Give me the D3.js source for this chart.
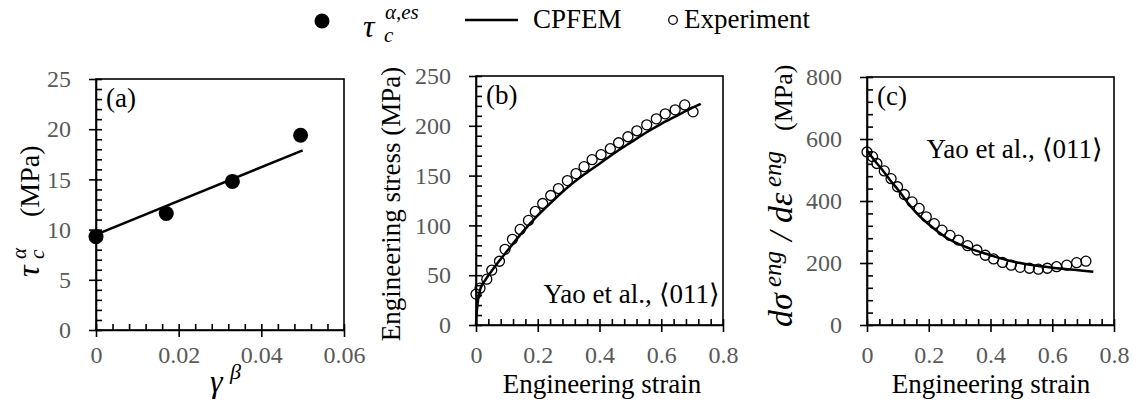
<!DOCTYPE html>
<html>
<head>
<meta charset="UTF-8">
</head>
<body style="margin:0">
<svg id="svgId"></svg>
<script src="https://cdnjs.cloudflare.com/ajax/libs/d3/7.8.5/d3.min.js"></script>
<script>

    // ---- data ----
    // (a) critical resolved shear stress vs gamma^beta
    const aGamma = [0, 0.017, 0.033, 0.0495];
    const aTau = [9.3, 11.6, 14.8, 19.4];
    const aFitGamma = [0, 0.05];
    const aFitTau = [9.5, 17.9];

    // (b) engineering stress-strain
    const bExpStrain = [0, 0.013, 0.035, 0.051, 0.076, 0.094, 0.118, 0.143, 0.170, 0.192, 0.216, 0.242, 0.267, 0.296,
        0.324, 0.350, 0.376, 0.405, 0.435, 0.462, 0.492, 0.521, 0.553, 0.584, 0.613, 0.645, 0.676, 0.703];
    const bExpStress = [31, 37, 46, 55, 64, 76, 86, 96, 105, 114, 122, 130, 137, 145,
        152, 159, 166, 171, 177, 183, 189, 195, 201, 207, 212, 216, 221, 214];
    const bSimStrain = [0, 0.003, 0.008, 0.015, 0.03, 0.05, 0.1, 0.15, 0.2, 0.25, 0.3, 0.35, 0.4, 0.45, 0.5, 0.55, 0.6, 0.65, 0.7, 0.728];
    const bSimStress = [0, 15, 28, 37, 45, 54, 74, 93, 110, 125, 139, 151, 162, 173, 183, 193, 202, 210, 218, 222];

    // (c) hardening rate
    const cExpStrain = [0, 0.018, 0.032, 0.056, 0.078, 0.099, 0.121, 0.146, 0.169, 0.192, 0.218, 0.243, 0.269, 0.296,
        0.326, 0.356, 0.383, 0.41, 0.439, 0.467, 0.496, 0.526, 0.555, 0.584, 0.614, 0.647, 0.679, 0.709];
    const cExpRate = [558, 543, 521, 497, 472, 446, 421, 397, 376, 349, 327, 306, 289, 274,
        256, 242, 225, 213, 202, 193, 186, 183, 180, 183, 188, 193, 201, 206];
    const cSimStrain = [0, 0.025, 0.05, 0.075, 0.1, 0.13, 0.16, 0.2, 0.26, 0.33, 0.4, 0.45, 0.5, 0.55, 0.6, 0.65, 0.7, 0.733];
    const cSimRate = [562, 530, 500, 467, 437, 397, 362, 325, 280, 248, 225, 210, 199, 191, 185, 180, 175, 172];

    // tick labels
    const aXTicks = [0, 0.02, 0.04, 0.06];
    const aXTickLabels = ['0', '0.02', '0.04', '0.06'];
    const aYTicks = [0, 5, 10, 15, 20, 25];
    const strainTicks = [0, 0.2, 0.4, 0.6, 0.8];
    const strainTickLabels = ['0', '0.2', '0.4', '0.6', '0.8'];
    const bYTicks = [0, 50, 100, 150, 200, 250];
    const cYTicks = [0, 200, 400, 600, 800];

    const svgWidth = 1138, svgHeight = 413;
    const tickGrey = '#595959';
    const FONT = 'Liberation Serif';

    const svg = d3.select('#svgId')
        .attr('width', svgWidth)
        .attr('height', svgHeight);

    // plain text helper, font given on every text
    function label(g, t, x, y, size, opts = {}) {
        return g.append('text')
            .attr('x', x).attr('y', y)
            .attr('text-anchor', opts.anchor || 'start')
            .attr('transform', opts.transform || null)
            .attr('font-family', FONT)
            .attr('font-size', size)
            .attr('font-style', opts.italic ? 'italic' : 'normal')
            .style('font-family', `"${FONT}"`)
            .attr('fill', 'black')
            .text(t);
    }

    // several text pieces (for sub/superscripts) inside one group
    function mathLabel(g, pieces) {
        pieces.forEach(p => label(g, p.t, p.x, p.y, p.size, {italic: p.italic}));
    }

    function range(step, max) {
        return d3.range(0, max + step / 2, step).map(v => +v.toFixed(6));
    }

    function drawPanel(p) {
        const x = d3.scaleLinear().domain(p.xDomain).range([p.left, p.right]);
        const y = d3.scaleLinear().domain(p.yDomain).range([p.bottom, p.top]);
        const g = svg.append('g');

        // frame
        g.append('rect')
            .attr('x', p.left).attr('y', p.top)
            .attr('width', p.right - p.left).attr('height', p.bottom - p.top)
            .attr('fill', 'none').attr('stroke', 'black').attr('stroke-width', 1.6);

        // inner ticks (major + minor)
        g.append('g')
            .attr('transform', `translate(0,${p.bottom})`)
            .call(d3.axisBottom(x).tickValues(range(p.xMinor, p.xDomain[1])).tickSize(-6).tickFormat(''))
            .call(a => a.select('.domain').remove());
        g.append('g')
            .attr('transform', `translate(${p.left},0)`)
            .call(d3.axisLeft(y).tickValues(range(p.yMinor, p.yDomain[1])).tickSize(-6).tickFormat(''))
            .call(a => a.select('.domain').remove());

        // outer major ticks and labels
        const xAxis = g.append('g')
            .attr('transform', `translate(0,${p.bottom})`)
            .call(d3.axisBottom(x).tickValues(p.xTicks).tickSize(7).tickSizeOuter(0)
                .tickPadding(p.xPad).tickFormat((d, i) => p.xLabels[i]));
        const yAxis = g.append('g')
            .attr('transform', `translate(${p.left},0)`)
            .call(d3.axisLeft(y).tickValues(p.yTicks).tickSize(7).tickSizeOuter(0)
                .tickPadding(18).tickFormat(d => d));
        [xAxis, yAxis].forEach(a => {
            a.attr('font-family', FONT).attr('font-size', 24);
            a.select('.domain').attr('stroke', 'black').attr('stroke-width', 1.6);
            a.selectAll('text')
                .attr('fill', tickGrey)
                .attr('font-family', FONT)
                .style('font-family', `"${FONT}"`)
                .attr('font-size', 24);
        });
        g.selectAll('.tick line').attr('stroke', 'black').attr('stroke-width', 1.6);

        // panel letter
        label(g, p.tag, p.left + 10, p.top + 28, 27);

        return {g, x, y};
    }

    const line = (x, y) => d3.line().x(d => x(d[0])).y(d => y(d[1])).curve(d3.curveMonotoneX);

    // ---- panel (a) ----
    const pa = drawPanel({
        left: 96, right: 344, top: 79, bottom: 330,
        xDomain: [0, 0.06], yDomain: [0, 25], xMinor: 0.004, yMinor: 1,
        xTicks: aXTicks, xLabels: aXTickLabels, yTicks: aYTicks, xPad: 9, tag: '(a)'
    });
    pa.g.append('path')
        .datum(d3.zip(aFitGamma, aFitTau))
        .attr('fill', 'none').attr('stroke', 'black').attr('stroke-width', 2.5)
        .attr('d', line(pa.x, pa.y));
    pa.g.selectAll('circle.pt')
        .data(d3.zip(aGamma, aTau)).enter()
        .append('circle')
        .attr('cx', d => pa.x(d[0])).attr('cy', d => pa.y(d[1]))
        .attr('r', 7.5).attr('fill', 'black');

    mathLabel(svg.append('g').attr('transform', 'translate(39,277) rotate(-90)'), [
        {t: 'τ', x: 0, y: 0, size: 32, italic: true},
        {t: 'α', x: 18, y: -13, size: 21, italic: true},
        {t: 'c', x: 18, y: 5, size: 21, italic: true},
        {t: '(MPa)', x: 60, y: 0, size: 28}
    ]);
    mathLabel(svg.append('g'), [
        {t: 'γ', x: 210, y: 392, size: 32, italic: true},
        {t: 'β', x: 230, y: 379, size: 22, italic: true}
    ]);

    // ---- panel (b) ----
    const pb = drawPanel({
        left: 476, right: 723, top: 76, bottom: 325,
        xDomain: [0, 0.8], yDomain: [0, 250], xMinor: 0.04, yMinor: 10,
        xTicks: strainTicks, xLabels: strainTickLabels, yTicks: bYTicks, xPad: 14, tag: '(b)'
    });
    pb.g.append('path')
        .datum(d3.zip(bSimStrain, bSimStress))
        .attr('fill', 'none').attr('stroke', 'black').attr('stroke-width', 2.5)
        .attr('d', line(pb.x, pb.y));
    pb.g.selectAll('circle.pt')
        .data(d3.zip(bExpStrain, bExpStress)).enter()
        .append('circle')
        .attr('cx', d => pb.x(d[0])).attr('cy', d => pb.y(d[1]))
        .attr('r', 5).attr('fill', 'none').attr('stroke', 'black').attr('stroke-width', 1.3);
    label(pb.g, 'Yao et al., ⟨011⟩', 720, 303, 27, {anchor: 'end'});
    label(svg, 'Engineering stress (MPa)', 0, 0, 27, {anchor: 'middle', transform: 'translate(400,204) rotate(-90)'});
    label(svg, 'Engineering strain', 602, 393, 27, {anchor: 'middle'});

    // ---- panel (c) ----
    const pc = drawPanel({
        left: 867, right: 1114, top: 77, bottom: 325,
        xDomain: [0, 0.8], yDomain: [0, 800], xMinor: 0.04, yMinor: 40,
        xTicks: strainTicks, xLabels: strainTickLabels, yTicks: cYTicks, xPad: 14, tag: '(c)'
    });
    pc.g.append('path')
        .datum(d3.zip(cSimStrain, cSimRate))
        .attr('fill', 'none').attr('stroke', 'black').attr('stroke-width', 2.5)
        .attr('d', line(pc.x, pc.y));
    pc.g.selectAll('circle.pt')
        .data(d3.zip(cExpStrain, cExpRate)).enter()
        .append('circle')
        .attr('cx', d => pc.x(d[0])).attr('cy', d => pc.y(d[1]))
        .attr('r', 5).attr('fill', 'none').attr('stroke', 'black').attr('stroke-width', 1.3);
    label(pc.g, 'Yao et al., ⟨011⟩', 1103, 158, 27, {anchor: 'end'});
    mathLabel(svg.append('g').attr('transform', 'translate(792,327) rotate(-90)'), [
        {t: 'dσ', x: 0, y: 0, size: 34, italic: true},
        {t: 'eng', x: 40, y: -11, size: 25, italic: true},
        {t: '/', x: 86, y: 0, size: 34, italic: true},
        {t: 'dε', x: 104, y: 0, size: 34, italic: true},
        {t: 'eng', x: 140, y: -11, size: 25, italic: true},
        {t: '(MPa)', x: 196, y: 0, size: 26}
    ]);
    label(svg, 'Engineering strain', 991, 393, 27, {anchor: 'middle'});

    // ---- legend ----
    const legend = svg.append('g');
    legend.append('circle').attr('cx', 322).attr('cy', 21).attr('r', 7.5).attr('fill', 'black');
    mathLabel(legend, [
        {t: 'τ', x: 363, y: 37, size: 32, italic: true},
        {t: 'α,es', x: 385, y: 19, size: 21, italic: true},
        {t: 'c', x: 384, y: 42, size: 21, italic: true}
    ]);
    legend.append('line').attr('x1', 465).attr('x2', 518).attr('y1', 20).attr('y2', 20)
        .attr('stroke', 'black').attr('stroke-width', 2.5);
    label(legend, 'CPFEM', 533, 28, 27);
    legend.append('circle').attr('cx', 673).attr('cy', 20).attr('r', 4.3)
        .attr('fill', 'none').attr('stroke', 'black').attr('stroke-width', 1.3);
    label(legend, 'Experiment', 684, 28, 27);

</script>
</body>
</html>
